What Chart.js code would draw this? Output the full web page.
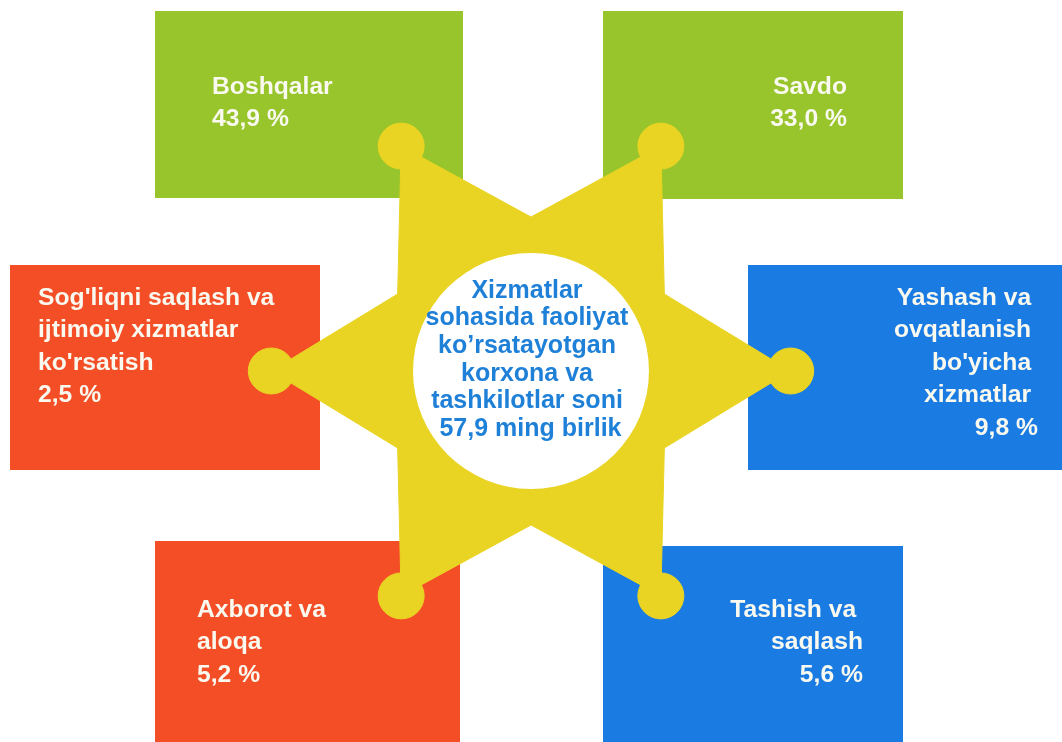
<!DOCTYPE html>
<html>
<head>
<meta charset="utf-8">
<script src="https://cdn.jsdelivr.net/npm/chart.js@4.4.1/dist/chart.umd.min.js"></script>
<style>
  html, body { margin: 0; padding: 0; background: #ffffff; }
  #chart { display: block; }
</style>
</head>
<body>
<canvas id="chart" width="1062" height="742"></canvas>
<script>
/* data - clockwise from the top-right point of the star */
const categories = [
    ['Savdo'],
    ['Yashash va ', 'ovqatlanish ', "bo'yicha ", 'xizmatlar '],
    ['Tashish va ', 'saqlash'],
    ['Axborot va', 'aloqa'],
    ["Sog'liqni saqlash va", 'ijtimoiy xizmatlar', "ko'rsatish"],
    ['Boshqalar']
];
const shares = [33.0, 9.8, 5.6, 5.2, 2.5, 43.9];
const totalTitle = ['Xizmatlar', 'sohasida faoliyat', 'ko\u2019rsatayotgan', 'korxona va', 'tashkilotlar soni'];
const totalValue = 57.9;
const totalUnit = 'ming birlik';

/* style */
const GREEN = '#97C52B';
const RED = '#F44E27';
const BLUE = '#1A7CE3';
const YELLOW = '#E9D423';
const boxColors = [GREEN, BLUE, BLUE, RED, RED, GREEN];
const STAR_OUTER = 70;   // share of the radial scale
const STAR_INNER = 41.5;
const CIRCLE = 31.8;

// box placement relative to the star point it belongs to
const boxLayout = [
    { dx: -58,  dy: -135, w: 300, h: 188, align: 'right', tx: 244, ty: 76 },
    { dx: -43,  dy: -106, w: 330, h: 205, align: 'right', tx: 290, ty: 33 },
    { dx: -58,  dy: -50,  w: 300, h: 220, align: 'right', tx: 260, ty: 64 },
    { dx: -246, dy: -55,  w: 305, h: 220, align: 'left',  tx: 42,  ty: 69 },
    { dx: -261, dy: -106, w: 310, h: 205, align: 'left',  tx: 28,  ty: 33 },
    { dx: -246, dy: -135, w: 308, h: 187, align: 'left',  tx: 57,  ty: 76 }
];

function fmt(v) {
    return v.toFixed(1).replace('.', ',');
}

// star = inner vertex, outer point, inner vertex, ...
const starLabels = [];
const starData = [];
const starPointRadius = [];
categories.forEach(function (c) {
    starLabels.push('');
    starData.push(STAR_INNER);
    starPointRadius.push(0);
    starLabels.push(c);
    starData.push(STAR_OUTER);
    starPointRadius.push(23);
});

const boxesPlugin = {
    id: 'boxes',
    beforeDatasetsDraw(chart) {
        const ctx = chart.ctx;
        const r = chart.scales.r;
        ctx.save();
        categories.forEach(function (lines, i) {
            const p = r.getPointPositionForValue(i * 2 + 1, STAR_OUTER);
            const b = boxLayout[i];
            const x0 = Math.round(p.x + b.dx);
            const y0 = Math.round(p.y + b.dy);
            ctx.fillStyle = boxColors[i];
            ctx.fillRect(x0, y0, b.w, b.h);

            ctx.fillStyle = '#F9F9F0';
            ctx.font = 'bold 24.7px "Liberation Sans", Arial, sans-serif';
            ctx.textAlign = b.align;
            ctx.textBaseline = 'middle';
            const all = lines.concat([fmt(shares[i]) + ' %']);
            all.forEach(function (t, k) {
                ctx.fillText(t, x0 + b.tx, y0 + b.ty + k * 32.5);
            });
        });
        ctx.restore();
    },
    afterDatasetsDraw(chart) {
        const ctx = chart.ctx;
        const r = chart.scales.r;
        ctx.save();
        ctx.fillStyle = '#ffffff';
        ctx.beginPath();
        ctx.arc(r.xCenter, r.yCenter, r.getDistanceFromCenterForValue(CIRCLE), 0, Math.PI * 2);
        ctx.fill();

        ctx.fillStyle = '#1F80D8';
        ctx.font = 'bold 25px "Liberation Sans", Arial, sans-serif';
        ctx.textAlign = 'center';
        ctx.textBaseline = 'middle';
        const all = totalTitle.concat([' ' + fmt(totalValue) + ' ' + totalUnit]);
        all.forEach(function (t, k) {
            ctx.fillText(t, r.xCenter - 4, r.yCenter - 80 + k * 27.6);
        });
        ctx.restore();
    }
};

const chart = new Chart(document.getElementById('chart'), {
    type: 'radar',
    data: {
        labels: starLabels,
        datasets: [{
            data: starData,
            fill: true,
            backgroundColor: YELLOW,
            borderColor: YELLOW,
            borderWidth: 1,
            tension: 0,
            pointRadius: starPointRadius,
            pointBackgroundColor: YELLOW,
            pointBorderColor: YELLOW,
            pointBorderWidth: 1,
            pointHoverRadius: starPointRadius
        }]
    },
    options: {
        responsive: false,
        animation: false,
        events: [],
        layout: { padding: 0 },
        plugins: {
            legend: { display: false },
            tooltip: { enabled: false }
        },
        scales: {
            r: {
                min: 0,
                max: 100,
                ticks: { display: false },
                grid: { display: false },
                angleLines: { display: false },
                pointLabels: { display: false }
            }
        }
    },
    plugins: [boxesPlugin]
});
</script>
</body>
</html>
